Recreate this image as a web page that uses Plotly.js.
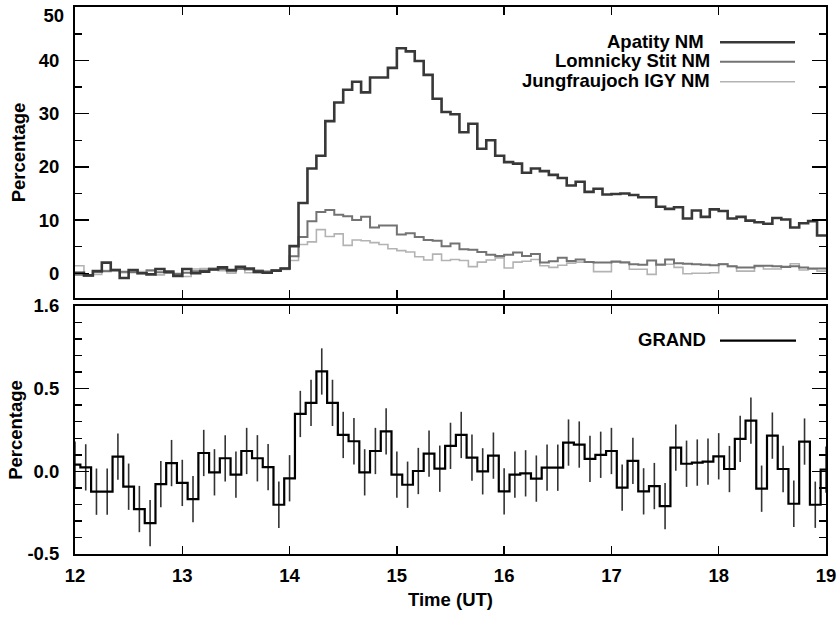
<!DOCTYPE html>
<html>
<head>
<meta charset="utf-8">
<script src="https://cdn.plot.ly/plotly-3.0.1.min.js"></script>
<style>html,body{margin:0;padding:0;background:#fff;}#chart{width:837px;height:618px;}</style>
</head>
<body>
<div id="chart"></div>
<script>
// ---- Data (5-minute bins starting at 12:00 UT) ----
const nmStartHour = 12;
const nmBinMinutes = 5;
const apatity = [
  0.1, -0.4, 0.4, 2.0, 0.6, -0.9, 0.6, 0.0, -0.2, 0.8, 0.3, -0.5,
  0.8, 0.0, 0.3, 0.7, 1.1, 0.6, 1.2, 0.9, 0.3, 0.1, 0.5, 0.9,
  5.1, 13.2, 19.7, 22.1, 28.6, 32.1, 34.5, 36.0, 34.0, 36.8, 36.8, 38.6,
  42.3, 41.7, 39.9, 37.3, 32.8, 30.3, 29.9, 26.5, 28.1, 23.4, 25.0, 22.1,
  20.9, 20.6, 18.9, 19.7, 19.2, 18.5, 17.9, 16.5, 17.2, 15.3, 15.9, 14.8,
  14.9, 15.0, 14.7, 14.3, 14.3, 12.5, 12.1, 12.4, 10.3, 11.8, 10.6, 12.0,
  11.7, 10.3, 10.6, 9.9, 9.6, 9.3, 10.4, 10.1, 8.6, 9.4, 9.8, 7.1
];
const lomnicky = [
  -0.3, -0.4, 0.3, 0.4, 0.5, 0.3, 0.2, 0.0, 0.5, 0.2, 0.1, -0.1,
  0.1, 0.4, 0.5, 0.9, 0.8, 0.4, 0.8, 0.7, 0.5, 0.3, 0.5, 0.9,
  3.2, 6.8, 9.8, 11.5, 11.9, 11.0, 10.7, 10.0, 10.6, 8.6, 9.0, 9.0,
  7.3, 7.5, 6.8, 6.25, 6.1, 5.1, 5.6, 4.5, 4.4, 4.0, 3.5, 3.25,
  3.5, 3.9, 3.25, 3.6, 2.0, 2.25, 2.9, 2.3, 2.6, 2.1, 2.0, 2.0,
  2.2, 2.0, 1.7, 1.6, 2.4, 1.6, 2.6, 1.9, 1.8, 1.7, 1.6, 1.5,
  1.7, 1.3, 1.1, 1.1, 1.4, 1.4, 1.3, 1.2, 1.3, 1.1, 0.9, 0.9
];
const jungfraujoch = [
  1.4, -0.5, -0.2, 0.5, 0.7, 0.1, 0.4, 0.3, 0.6, -0.3, 0.0, -0.3,
  -0.6, 0.8, 0.9, 0.6, 0.5, 0.0, 1.0, 0.1, 0.0, 0.4, 0.6, 0.7,
  2.4, 5.4, 5.9, 8.2, 6.9, 7.4, 5.25, 6.25, 6.1, 5.75, 5.4, 4.6,
  4.25, 4.0, 3.1, 2.5, 3.6, 2.4, 2.6, 2.4, 1.25, 2.1, 2.5, 2.9,
  1.0, 2.1, 2.25, 2.6, 1.4, 1.1, 1.5, 1.9, 2.1, 2.1, 0.3, 0.3,
  2.1, 2.1, 0.75, 0.75, -0.2, 1.7, 1.7, 1.1, -0.1, 0.0, 0.0, 0.1,
  1.8, 1.3, 0.4, 0.4, 1.3, 0.8, 0.8, 1.3, 1.8, 0.6, 0.8, 0.4
];
// ---- GRAND (6-minute points centred on 12.0, 12.1, ... 19.0 UT) ----
const grandStartHour = 12;
const grandStepHours = 0.1;
const grand = [
  0.04, 0.024, -0.123, -0.123, 0.089, -0.093, -0.228, -0.313, -0.077, 0.05,
  -0.07, -0.168, 0.111, -0.006, 0.079, -0.02, 0.123, 0.079, 0.026, -0.202,
  -0.042, 0.347, 0.414, 0.604, 0.414, 0.22, 0.182, -0.006, 0.123, 0.242,
  -0.02, -0.081, 0.002, 0.107, 0.016, 0.154, 0.22, 0.083, 0.0, 0.095,
  -0.121, -0.02, -0.012, -0.044, 0.022, 0.022, 0.174, 0.162, 0.075, 0.10,
  0.123, -0.099, 0.063, -0.121, -0.089, -0.21, 0.143, 0.046, 0.053, 0.059,
  0.091, 0.014, 0.196, 0.307, -0.105, 0.216, 0.014, -0.196, 0.18, -0.202,
  0.01
];
const grandErrHalf = 0.14;
const xTickVals = [12, 13, 14, 15, 16, 17, 18, 19];
const topTickVals = [0, 10, 20, 30, 40, 50];
const topTickText = ['0', '10', '20', '30', '40', ''];
const topEdgeTickVals = [50];
const topEdgeTickText = ['50'];
const bottomTickVals = [-0.5, 0.0, 0.5, 1.0];
const bottomTickText = ['-0.5', '0.0', '0.5', '1.6'];
const names = ['Apatity NM', 'Lomnicky Stit NM', 'Jungfraujoch IGY NM', 'GRAND'];

// ---- helpers ----
function stepX(vals) {
  const xs = vals.map((_, i) => nmStartHour + i * nmBinMinutes / 60);
  xs.push(nmStartHour + vals.length * nmBinMinutes / 60);
  return xs;
}
function stepY(vals) { return vals.concat([vals[vals.length - 1]]); }

const FONT = {family: 'Liberation Sans, Arial, Helvetica, sans-serif', size: 18.5, color: '#000', weight: 'bold'};
const cApat = '#383838', cLomn = '#737373', cJung = '#b3b3b3';
const TOP_RANGE = [-4.65, 50.05];

const traces = [
  {x: stepX(jungfraujoch), y: stepY(jungfraujoch), name: names[2], type: 'scatter', mode: 'lines',
   line: {shape: 'hv', color: cJung, width: 1.6}, xaxis: 'x', yaxis: 'y', showlegend: false},
  {x: stepX(lomnicky), y: stepY(lomnicky), name: names[1], type: 'scatter', mode: 'lines',
   line: {shape: 'hv', color: cLomn, width: 2}, xaxis: 'x', yaxis: 'y', showlegend: false},
  {x: stepX(apatity), y: stepY(apatity), name: names[0], type: 'scatter', mode: 'lines',
   line: {shape: 'hv', color: cApat, width: 2.6}, xaxis: 'x', yaxis: 'y', showlegend: false},
  {x: grand.map((_, i) => +(grandStartHour + i * grandStepHours).toFixed(2)), y: grand, name: names[3],
   type: 'scatter', mode: 'lines', line: {shape: 'hvh', color: '#000', width: 2.2},
   error_y: {type: 'constant', value: grandErrHalf, color: '#333', thickness: 1.6, width: 0},
   xaxis: 'x2', yaxis: 'y2', showlegend: false},
  // empty helper trace so the overlay axis carrying the top "50" label is drawn
  {x: [], y: [], type: 'scatter', mode: 'lines', xaxis: 'x', yaxis: 'y3', showlegend: false, hoverinfo: 'skip'}
];

const W = 751, H = 547, L = 75, T = 7;
function px(x) { return (x - L) / W; }
function py(y) { return (T + H - y) / H; }

const baseX = {
  range: [12, 19], tickvals: xTickVals, ticks: 'inside', ticklen: 8, tickwidth: 1.5, tickcolor: '#000',
  showline: true, linewidth: 2, linecolor: '#000', mirror: 'ticks', showgrid: false, zeroline: false,
  tickfont: FONT
};

const layout = {
  width: 837, height: 618,
  margin: {l: L, r: 837 - L - W, t: T, b: 618 - T - H},
  paper_bgcolor: '#fff', plot_bgcolor: '#fff',
  showlegend: false,
  font: FONT,
  xaxis: Object.assign({}, baseX, {anchor: 'y', showticklabels: false, matches: 'x2'}),
  xaxis2: Object.assign({}, baseX, {anchor: 'y2', showticklabels: true, ticklabelstandoff: 4,
    title: {text: 'Time (UT)', font: FONT, standoff: 8}}),
  yaxis: {
    domain: [py(298), 1], range: TOP_RANGE, tickvals: topTickVals, ticktext: topTickText,
    ticks: 'inside', ticklen: 14, tickwidth: 1.5,
    tickcolor: '#000', minor: {dtick: 5, tick0: 0, ticks: 'inside', ticklen: 7, tickwidth: 1.5, tickcolor: '#000', showgrid: false},
    showline: true, linewidth: 2, linecolor: '#000', mirror: 'ticks', showgrid: false, zeroline: false,
    tickfont: FONT, ticklabelstandoff: 10, anchor: 'x',
    title: {text: 'Percentage', font: FONT, standoff: 8}
  },
  yaxis3: {
    overlaying: 'y', anchor: 'x', side: 'left', range: TOP_RANGE,
    tickvals: topEdgeTickVals, ticktext: topEdgeTickText, ticks: '', showline: false,
    showgrid: false, zeroline: false, tickfont: FONT, ticklabelstandoff: 10,
    ticklabelshift: 8, ticklabeloverflow: 'allow'
  },
  yaxis2: {
    domain: [0, py(306)], range: [-0.5, 1.0], tickvals: bottomTickVals, ticktext: bottomTickText,
    ticks: 'inside', ticklen: 14, tickwidth: 1.5, tickcolor: '#000',
    minor: {dtick: 0.1, tick0: 0, ticks: 'inside', ticklen: 7, tickwidth: 1.5, tickcolor: '#000', showgrid: false},
    showline: true, linewidth: 2, linecolor: '#000', mirror: 'ticks', showgrid: false, zeroline: false,
    tickfont: FONT, ticklabelstandoff: 10, anchor: 'x2', ticklabeloverflow: 'allow',
    title: {text: 'Percentage', font: FONT, standoff: 0}
  },
  annotations: [
    {text: names[0], xref: 'paper', yref: 'paper', x: px(706), y: py(41), xanchor: 'right', yanchor: 'middle', showarrow: false, font: FONT},
    {text: names[1], xref: 'paper', yref: 'paper', x: px(712), y: py(61), xanchor: 'right', yanchor: 'middle', showarrow: false, font: FONT},
    {text: names[2], xref: 'paper', yref: 'paper', x: px(712), y: py(80.5), xanchor: 'right', yanchor: 'middle', showarrow: false, font: FONT},
    {text: names[3], xref: 'paper', yref: 'paper', x: px(708), y: py(339.5), xanchor: 'right', yanchor: 'middle', showarrow: false, font: FONT}
  ],
  shapes: [
    {type: 'line', xref: 'paper', yref: 'paper', x0: px(720), x1: px(795), y0: py(42.3), y1: py(42.3), line: {color: cApat, width: 2.6}},
    {type: 'line', xref: 'paper', yref: 'paper', x0: px(720), x1: px(795), y0: py(61.7), y1: py(61.7), line: {color: cLomn, width: 2}},
    {type: 'line', xref: 'paper', yref: 'paper', x0: px(720), x1: px(795), y0: py(81.7), y1: py(81.7), line: {color: cJung, width: 1.6}},
    {type: 'line', xref: 'paper', yref: 'paper', x0: px(720), x1: px(796), y0: py(340.7), y1: py(340.7), line: {color: '#000', width: 2.2}}
  ]
};

Plotly.newPlot('chart', traces, layout, {displayModeBar: false, staticPlot: true});
</script>
</body>
</html>
